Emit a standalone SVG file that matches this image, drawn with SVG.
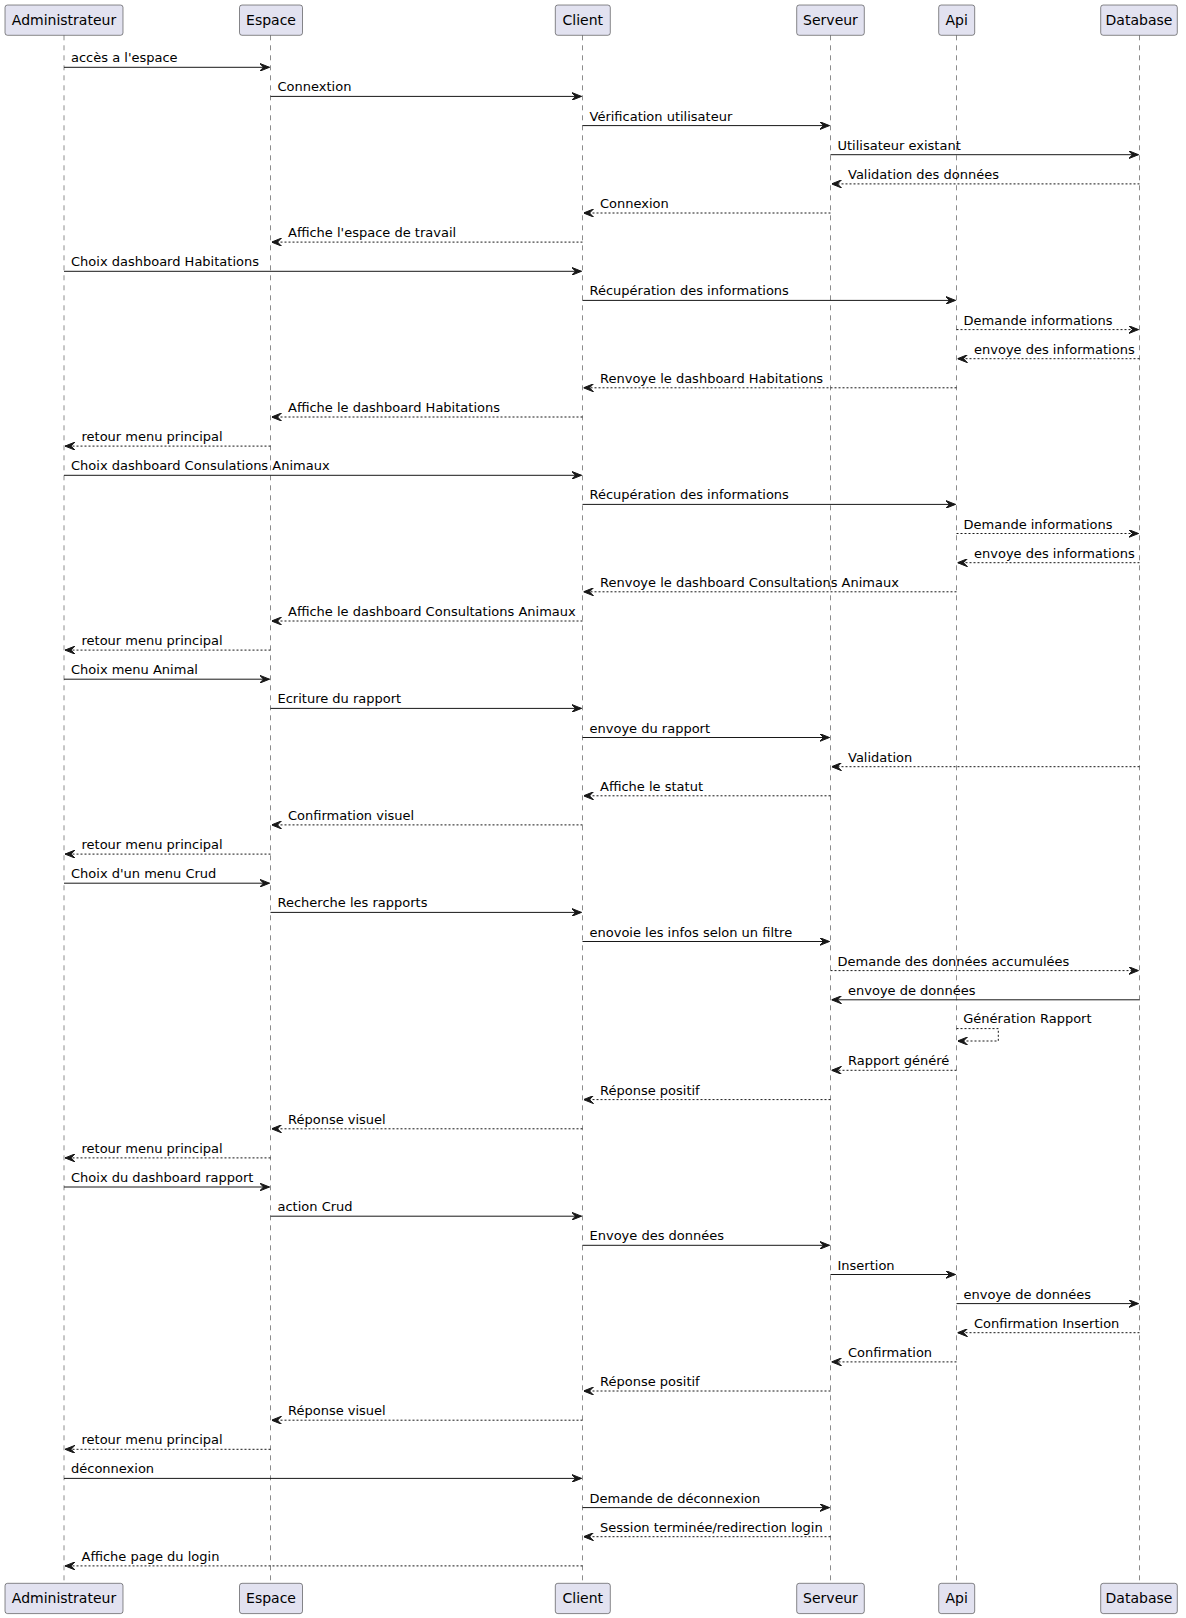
<svg xmlns="http://www.w3.org/2000/svg" width="1186" height="1618" viewBox="0 0 1186 1618">
<style>
.box{fill:#E2E2F0;stroke:#181818;stroke-width:0.5}
.pt{font-family:"DejaVu Sans","Liberation Sans",sans-serif;font-size:14px;fill:#000;text-anchor:middle}
.life{stroke:#181818;stroke-width:0.5;stroke-dasharray:5,5;fill:none}
.m{stroke:#181818;stroke-width:1;fill:none;marker-end:url(#ah)}
.r{stroke:#181818;stroke-width:1;fill:none;stroke-dasharray:2,2;marker-end:url(#ah)}
.t{font-family:"DejaVu Sans","Liberation Sans",sans-serif;font-size:13px;fill:#000}
</style>
<defs>
<marker id="ah" viewBox="0 0 10 8" refX="10" refY="4" markerWidth="10" markerHeight="8" markerUnits="userSpaceOnUse" orient="auto">
<path d="M0,0 L10,4 L0,8 L4,4 Z" fill="#181818" stroke="#181818" stroke-width="1" stroke-dasharray="none"/>
</marker>
</defs>
<rect width="1186" height="1618" fill="#fff"/>
<g id="lifelines">
<line class="life" x1="64" y1="35.3" x2="64" y2="1583.3"/>
<line class="life" x1="270.5" y1="35.3" x2="270.5" y2="1583.3"/>
<line class="life" x1="582.5" y1="35.3" x2="582.5" y2="1583.3"/>
<line class="life" x1="830.5" y1="35.3" x2="830.5" y2="1583.3"/>
<line class="life" x1="956.5" y1="35.3" x2="956.5" y2="1583.3"/>
<line class="life" x1="1139.5" y1="35.3" x2="1139.5" y2="1583.3"/>
</g>
<g id="p-administrateur">
<rect class="box" x="5" y="5" width="118" height="30.3" rx="2.5"/>
<text class="pt" x="64" y="25">Administrateur</text>
<rect class="box" x="5" y="1583.3" width="118" height="30.3" rx="2.5"/>
<text class="pt" x="64" y="1603.3">Administrateur</text>
</g>
<g id="p-espace">
<rect class="box" x="239.5" y="5" width="63" height="30.3" rx="2.5"/>
<text class="pt" x="271" y="25">Espace</text>
<rect class="box" x="239.5" y="1583.3" width="63" height="30.3" rx="2.5"/>
<text class="pt" x="271" y="1603.3">Espace</text>
</g>
<g id="p-client">
<rect class="box" x="555.3" y="5" width="55" height="30.3" rx="2.5"/>
<text class="pt" x="582.8" y="25">Client</text>
<rect class="box" x="555.3" y="1583.3" width="55" height="30.3" rx="2.5"/>
<text class="pt" x="582.8" y="1603.3">Client</text>
</g>
<g id="p-serveur">
<rect class="box" x="796.7" y="5" width="67.6" height="30.3" rx="2.5"/>
<text class="pt" x="830.5" y="25">Serveur</text>
<rect class="box" x="796.7" y="1583.3" width="67.6" height="30.3" rx="2.5"/>
<text class="pt" x="830.5" y="1603.3">Serveur</text>
</g>
<g id="p-api">
<rect class="box" x="938.7" y="5" width="36" height="30.3" rx="2.5"/>
<text class="pt" x="956.7" y="25">Api</text>
<rect class="box" x="938.7" y="1583.3" width="36" height="30.3" rx="2.5"/>
<text class="pt" x="956.7" y="1603.3">Api</text>
</g>
<g id="p-database">
<rect class="box" x="1100.7" y="5" width="76.6" height="30.3" rx="2.5"/>
<text class="pt" x="1139" y="25">Database</text>
<rect class="box" x="1100.7" y="1583.3" width="76.6" height="30.3" rx="2.5"/>
<text class="pt" x="1139" y="1603.3">Database</text>
</g>
<g id="connectors">
<line class="m" x1="64" y1="67.3" x2="269.5" y2="67.3"/><text class="t" x="71" y="62.3">accès a l'espace</text>
<line class="m" x1="270.5" y1="96.4" x2="581.5" y2="96.4"/><text class="t" x="277.5" y="91.4">Connextion</text>
<line class="m" x1="582.5" y1="125.6" x2="829.5" y2="125.6"/><text class="t" x="589.5" y="120.6">Vérification utilisateur</text>
<line class="m" x1="830.5" y1="154.7" x2="1138.5" y2="154.7"/><text class="t" x="837.5" y="149.7">Utilisateur existant</text>
<line class="r" x1="1139.5" y1="183.9" x2="831.5" y2="183.9"/><text class="t" x="848" y="178.9">Validation des données</text>
<line class="r" x1="830.5" y1="213" x2="583.5" y2="213"/><text class="t" x="600" y="208">Connexion</text>
<line class="r" x1="582.5" y1="242.1" x2="271.5" y2="242.1"/><text class="t" x="288" y="237.1">Affiche l'espace de travail</text>
<line class="m" x1="64" y1="271.3" x2="581.5" y2="271.3"/><text class="t" x="71" y="266.3">Choix dashboard Habitations</text>
<line class="m" x1="582.5" y1="300.4" x2="955.5" y2="300.4"/><text class="t" x="589.5" y="295.4">Récupération des informations</text>
<line class="r" x1="956.5" y1="329.6" x2="1138.5" y2="329.6"/><text class="t" x="963.5" y="324.6">Demande informations</text>
<line class="r" x1="1139.5" y1="358.7" x2="957.5" y2="358.7"/><text class="t" x="974" y="353.7">envoye des informations</text>
<line class="r" x1="956.5" y1="387.8" x2="583.5" y2="387.8"/><text class="t" x="600" y="382.8">Renvoye le dashboard Habitations</text>
<line class="r" x1="582.5" y1="417" x2="271.5" y2="417"/><text class="t" x="288" y="412">Affiche le dashboard Habitations</text>
<line class="r" x1="270.5" y1="446.1" x2="65" y2="446.1"/><text class="t" x="81.5" y="441.1">retour menu principal</text>
<line class="m" x1="64" y1="475.3" x2="581.5" y2="475.3"/><text class="t" x="71" y="470.3">Choix dashboard Consulations Animaux</text>
<line class="m" x1="582.5" y1="504.4" x2="955.5" y2="504.4"/><text class="t" x="589.5" y="499.4">Récupération des informations</text>
<line class="r" x1="956.5" y1="533.5" x2="1138.5" y2="533.5"/><text class="t" x="963.5" y="528.5">Demande informations</text>
<line class="r" x1="1139.5" y1="562.7" x2="957.5" y2="562.7"/><text class="t" x="974" y="557.7">envoye des informations</text>
<line class="r" x1="956.5" y1="591.8" x2="583.5" y2="591.8"/><text class="t" x="600" y="586.8">Renvoye le dashboard Consultations Animaux</text>
<line class="r" x1="582.5" y1="621" x2="271.5" y2="621"/><text class="t" x="288" y="616">Affiche le dashboard Consultations Animaux</text>
<line class="r" x1="270.5" y1="650.1" x2="65" y2="650.1"/><text class="t" x="81.5" y="645.1">retour menu principal</text>
<line class="m" x1="64" y1="679.2" x2="269.5" y2="679.2"/><text class="t" x="71" y="674.2">Choix menu Animal</text>
<line class="m" x1="270.5" y1="708.4" x2="581.5" y2="708.4"/><text class="t" x="277.5" y="703.4">Ecriture du rapport</text>
<line class="m" x1="582.5" y1="737.5" x2="829.5" y2="737.5"/><text class="t" x="589.5" y="732.5">envoye du rapport</text>
<line class="r" x1="1139.5" y1="766.7" x2="831.5" y2="766.7"/><text class="t" x="848" y="761.7">Validation</text>
<line class="r" x1="830.5" y1="795.8" x2="583.5" y2="795.8"/><text class="t" x="600" y="790.8">Affiche le statut</text>
<line class="r" x1="582.5" y1="824.9" x2="271.5" y2="824.9"/><text class="t" x="288" y="819.9">Confirmation visuel</text>
<line class="r" x1="270.5" y1="854.1" x2="65" y2="854.1"/><text class="t" x="81.5" y="849.1">retour menu principal</text>
<line class="m" x1="64" y1="883.2" x2="269.5" y2="883.2"/><text class="t" x="71" y="878.2">Choix d'un menu Crud</text>
<line class="m" x1="270.5" y1="912.4" x2="581.5" y2="912.4"/><text class="t" x="277.5" y="907.4">Recherche les rapports</text>
<line class="m" x1="582.5" y1="941.5" x2="829.5" y2="941.5"/><text class="t" x="589.5" y="936.5">enovoie les infos selon un filtre</text>
<line class="r" x1="830.5" y1="970.6" x2="1138.5" y2="970.6"/><text class="t" x="837.5" y="965.6">Demande des données accumulées</text>
<line class="m" x1="1139.5" y1="999.8" x2="831.5" y2="999.8"/><text class="t" x="848" y="994.8">envoye de données</text>
<path class="r" d="M956.5,1028.6 H998.3 V1041 H957.5"/><text class="t" x="963.3" y="1023.4">Génération Rapport</text>
<line class="r" x1="956.5" y1="1070.3" x2="831.5" y2="1070.3"/><text class="t" x="848" y="1065.3">Rapport généré</text>
<line class="r" x1="830.5" y1="1099.6" x2="583.5" y2="1099.6"/><text class="t" x="600" y="1094.6">Réponse positif</text>
<line class="r" x1="582.5" y1="1128.8" x2="271.5" y2="1128.8"/><text class="t" x="288" y="1123.8">Réponse visuel</text>
<line class="r" x1="270.5" y1="1157.9" x2="65" y2="1157.9"/><text class="t" x="81.5" y="1152.9">retour menu principal</text>
<line class="m" x1="64" y1="1187" x2="269.5" y2="1187"/><text class="t" x="71" y="1182">Choix du dashboard rapport</text>
<line class="m" x1="270.5" y1="1216.2" x2="581.5" y2="1216.2"/><text class="t" x="277.5" y="1211.2">action Crud</text>
<line class="m" x1="582.5" y1="1245.3" x2="829.5" y2="1245.3"/><text class="t" x="589.5" y="1240.3">Envoye des données</text>
<line class="m" x1="830.5" y1="1274.5" x2="955.5" y2="1274.5"/><text class="t" x="837.5" y="1269.5">Insertion</text>
<line class="m" x1="956.5" y1="1303.6" x2="1138.5" y2="1303.6"/><text class="t" x="963.5" y="1298.6">envoye de données</text>
<line class="r" x1="1139.5" y1="1332.7" x2="957.5" y2="1332.7"/><text class="t" x="974" y="1327.7">Confirmation Insertion</text>
<line class="r" x1="956.5" y1="1361.9" x2="831.5" y2="1361.9"/><text class="t" x="848" y="1356.9">Confirmation</text>
<line class="r" x1="830.5" y1="1391" x2="583.5" y2="1391"/><text class="t" x="600" y="1386">Réponse positif</text>
<line class="r" x1="582.5" y1="1420.2" x2="271.5" y2="1420.2"/><text class="t" x="288" y="1415.2">Réponse visuel</text>
<line class="r" x1="270.5" y1="1449.3" x2="65" y2="1449.3"/><text class="t" x="81.5" y="1444.3">retour menu principal</text>
<line class="m" x1="64" y1="1478.4" x2="581.5" y2="1478.4"/><text class="t" x="71" y="1473.4">déconnexion</text>
<line class="m" x1="582.5" y1="1507.6" x2="829.5" y2="1507.6"/><text class="t" x="589.5" y="1502.6">Demande de déconnexion</text>
<line class="r" x1="830.5" y1="1536.7" x2="583.5" y2="1536.7"/><text class="t" x="600" y="1531.7">Session terminée/redirection login</text>
<line class="r" x1="582.5" y1="1565.9" x2="65" y2="1565.9"/><text class="t" x="81.5" y="1560.9">Affiche page du login</text>
</g>
</svg>
